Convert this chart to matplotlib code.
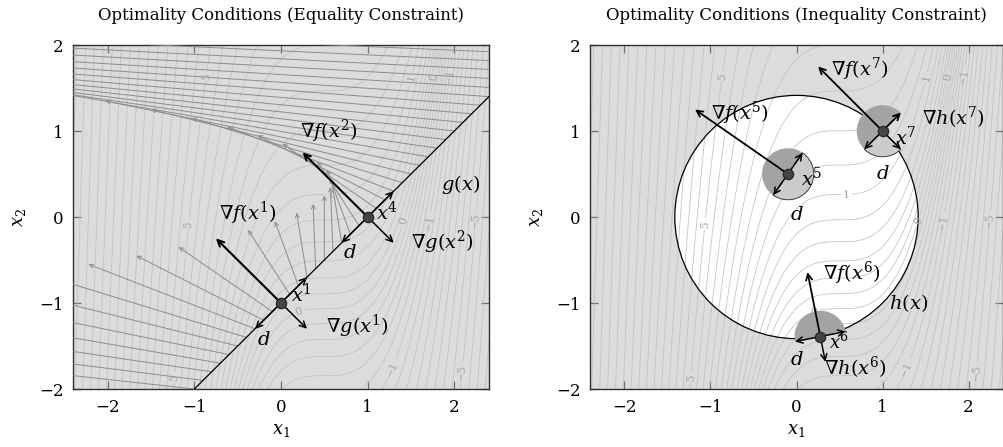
import numpy as np
import matplotlib.pyplot as plt
from matplotlib.patches import FancyArrowPatch, Wedge, Circle

plt.rcParams['font.family'] = ['DejaVu Serif']
plt.rcParams['mathtext.fontset'] = 'dejavuserif'

f_shift = 0.5
f_weight = 0.75
f_offset = 0.8

# contour level = s^3 + 1.3 s for these s (matches the spacing seen in the picture)
level_s = [-1.8, -1.7, -1.6, -1.5, -1.4, -1.3, -1.2, -1.1, -1.0, -0.9, -0.8, -0.7,
           -0.6, -0.5, -0.4, -0.3, -0.2, -0.1, 0.0, 0.1, 0.2, 0.3, 0.4, 0.5, 0.6,
           0.7, 0.8, 0.9, 1.0, 1.1, 1.2, 1.3, 1.4, 1.5, 1.6, 1.7, 1.8, 1.9, 2.0,
           2.1, 2.2, 2.3, 2.4, 2.5, 2.6, 2.7, 2.8]
level_lin = 1.3

# contour labels: level s, x1, x2
lab_s = [1.4, 1.4, 1.4, 0.6, 0.0, -0.6, 0.0, -0.6, -1.4, 0.0, -0.6, -1.4, 0.6]
lab_x = [-0.93, -1.10, -1.27, 1.48, 1.76, 1.97, 1.39, 1.72, 2.28, 0.19, 1.29, 2.16, 0.58]
lab_y = [1.65, -0.08, -1.86, 1.63, 1.63, 1.63, -0.04, -0.06, -0.04, -1.05, -1.77, -1.81, 0.31]

# equality constraint g(x) = x1 - x2 - 1 = 0
g_line_x = [-1.0, 2.4]
g_line_y = [-2.0, 1.4]
# base points (x1) on g(x)=0 for the grey gradient arrows
fan_t = [-1.0, -0.9, -0.8, -0.7, -0.6, -0.5, -0.4, -0.3, -0.2, -0.1, 0.0, 0.1, 0.2,
         0.3, 0.4, 0.5, 0.6, 0.7, 0.8, 0.9, 1.0, 1.1, 1.2, 1.3, 1.4, 1.5, 1.6, 1.7,
         1.8, 1.9, 2.0, 2.1, 2.2, 2.3, 2.4, 2.5, 2.6, 2.7, 2.8, 2.9, 3.0]

eq_pts = [(0.0, -1.0), (1.0, 0.0)]

# inequality constraint h(x) = x1^2 + x2^2 - 2 <= 0
h_radius = np.sqrt(2.0)
in_pts = [(-0.1, 0.5), (1.0, 1.0), (0.277, -1.39)]
in_active = [False, True, True]
disk_r = 0.3

BG = '#dcdcdc'
CL = '#c2c2c2'
FS = 14


def f(x1, x2):
    return -(x1 - f_shift) ** 3 + f_weight * x2 + f_offset


def grad_f(p):
    return np.array([-3 * (p[0] - f_shift) ** 2, f_weight])


def lev(s):
    return s ** 3 + level_lin * s


def arrow(ax, p, q, color='black', lw=1.1, ms=11, z=6):
    a = FancyArrowPatch(p, q, arrowstyle='->', mutation_scale=ms, color=color,
                        lw=lw, shrinkA=0, shrinkB=0, zorder=z)
    ax.add_patch(a)


def fmt(v):
    return f"{round(v):d}".replace('-', '\u2212')


def base_axes(ax, title):
    ax.set_xlim(-2.4, 2.4)
    ax.set_ylim(-2, 2)
    ax.set_facecolor(BG)
    ax.set_xticks([-2, -1, 0, 1, 2])
    ax.set_yticks([-2, -1, 0, 1, 2])
    ax.tick_params(direction='in', top=True, right=True, length=6, width=0.9,
                   color='#6e6e6e', labelsize=12, pad=7)
    for s in ax.spines.values():
        s.set_color('#303030')
        s.set_linewidth(1.0)
    ax.set_xlabel('$x_1$', fontsize=13, labelpad=4)
    ax.set_ylabel('$x_2$', fontsize=13, labelpad=8)
    ax.set_title(title, fontsize=12, pad=18)


def contours(ax):
    xs = np.linspace(-2.4, 2.4, 500)
    ys = np.linspace(-2, 2, 420)
    X, Y = np.meshgrid(xs, ys)
    Z = f(X, Y)
    lab_set = sorted(set(lab_s))
    plain = [lev(s) for s in level_s if s not in lab_set]
    ax.contour(X, Y, Z, levels=plain, colors=CL, linewidths=0.55,
               linestyles='solid', zorder=2)
    cs = ax.contour(X, Y, Z, levels=[lev(s) for s in lab_set], colors=CL,
                    linewidths=0.55, linestyles='solid', zorder=2)
    ax.clabel(cs, manual=list(zip(lab_x, lab_y)), fmt=fmt, fontsize=8,
              colors='#a6a6a6', inline=True, inline_spacing=2)


fig = plt.figure(figsize=(10.04, 4.47), dpi=100)
ax1 = fig.add_axes([73 / 1004, 1 - 389 / 447, 416 / 1004, 344 / 447])
ax2 = fig.add_axes([590 / 1004, 1 - 389 / 447, 413 / 1004, 344 / 447])

# ---------------- equality constraint ----------------
base_axes(ax1, 'Optimality Conditions (Equality Constraint)')
contours(ax1)

for t in fan_t:
    p = np.array([t, t - 1.0])
    arrow(ax1, p, p + grad_f(p), color='#8c8c8c', lw=0.7, ms=7, z=3)

ax1.plot(g_line_x, g_line_y, color='black', lw=0.9, zorder=4)

for p in eq_pts:
    p = np.array(p)
    arrow(ax1, p, p + grad_f(p), lw=1.5)
    arrow(ax1, p, p + np.array([0.3, 0.3]))
    arrow(ax1, p, p + np.array([-0.3, -0.3]))
    arrow(ax1, p, p + np.array([0.3, -0.3]))
    ax1.plot(*p, 'o', ms=7.5, mfc='#444444', mec='#222222', mew=0.8, zorder=8)

ax1.text(-0.38, 0.04, r'$\nabla f(x^1)$', fontsize=FS, ha='center', va='center', zorder=9)
ax1.text(0.12, -0.9, r'$x^1$', fontsize=FS, ha='left', va='center', zorder=9)
ax1.text(0.88, -1.27, r'$\nabla g(x^1)$', fontsize=FS, ha='center', va='center', zorder=9)
ax1.text(-0.2, -1.43, r'$d$', fontsize=FS, ha='center', va='center', zorder=9)
ax1.text(0.55, 1.0, r'$\nabla f(x^2)$', fontsize=FS, ha='center', va='center', zorder=9)
ax1.text(1.1, 0.06, r'$x^4$', fontsize=FS, ha='left', va='center', zorder=9)
ax1.text(1.86, -0.3, r'$\nabla g(x^2)$', fontsize=FS, ha='center', va='center', zorder=9)
ax1.text(0.8, -0.42, r'$d$', fontsize=FS, ha='center', va='center', zorder=9)
ax1.text(2.07, 0.38, r'$g(x)$', fontsize=FS, ha='center', va='center', zorder=9)

# ---------------- inequality constraint ----------------
base_axes(ax2, 'Optimality Conditions (Inequality Constraint)')
ax2.add_patch(Circle((0, 0), h_radius, facecolor='white', edgecolor='none', zorder=1))
contours(ax2)
ax2.add_patch(Circle((0, 0), h_radius, facecolor='none', edgecolor='black', lw=0.9, zorder=3))

for p, active in zip(in_pts, in_active):
    p = np.array(p)
    gf = grad_f(p)
    ang_f = np.degrees(np.arctan2(gf[1], gf[0]))
    # ascent half-disk
    ax2.add_patch(Wedge(p, disk_r, ang_f - 90, ang_f + 90, facecolor='#a3a3a3',
                        edgecolor='none', zorder=4))
    lo, hi = ang_f + 90, ang_f + 270
    if active:
        gh = 2 * p
        ang_h = np.degrees(np.arctan2(gh[1], gh[0])) % 360
        lo, hi = max(lo, ang_h + 90), min(hi, ang_h + 270)
    if hi > lo:
        ax2.add_patch(Wedge(p, disk_r, lo, hi, facecolor='#cbcbcb',
                            edgecolor='#222222', lw=0.6, zorder=4))
    arrow(ax2, p, p + gf, lw=1.3)
    n = gf / np.hypot(*gf)
    perp = np.array([n[1], -n[0]]) * disk_r
    arrow(ax2, p, p + perp)
    arrow(ax2, p, p - perp)
    if active:
        nh = 2 * p / np.hypot(*(2 * p)) * disk_r
        arrow(ax2, p, p + nh)
        if p[1] > 0:
            arrow(ax2, p, p + np.array([nh[1], -nh[0]]))
    ax2.plot(*p, 'o', ms=7.5, mfc='#444444', mec='#222222', mew=0.8, zorder=8)

ax2.text(-0.66, 1.2, r'$\nabla f(x^5)$', fontsize=FS, ha='center', va='center', zorder=9)
ax2.text(0.05, 0.45, r'$x^5$', fontsize=FS, ha='left', va='center', zorder=9)
ax2.text(0.0, 0.02, r'$d$', fontsize=FS, ha='center', va='center', zorder=9)
ax2.text(0.73, 1.72, r'$\nabla f(x^7)$', fontsize=FS, ha='center', va='center', zorder=9)
ax2.text(1.82, 1.15, r'$\nabla h(x^7)$', fontsize=FS, ha='center', va='center', zorder=9)
ax2.text(1.14, 0.93, r'$x^7$', fontsize=FS, ha='left', va='center', zorder=9)
ax2.text(1.0, 0.5, r'$d$', fontsize=FS, ha='center', va='center', zorder=9)
ax2.text(0.64, -0.66, r'$\nabla f(x^6)$', fontsize=FS, ha='center', va='center', zorder=9)
ax2.text(1.3, -1.0, r'$h(x)$', fontsize=FS, ha='center', va='center', zorder=9)
ax2.text(0.38, -1.45, r'$x^6$', fontsize=FS - 1, ha='left', va='center', zorder=9)
ax2.text(0.0, -1.66, r'$d$', fontsize=FS, ha='center', va='center', zorder=9)
ax2.text(0.68, -1.75, r'$\nabla h(x^6)$', fontsize=FS, ha='center', va='center', zorder=9)

fig.savefig('out.png', dpi=100)
